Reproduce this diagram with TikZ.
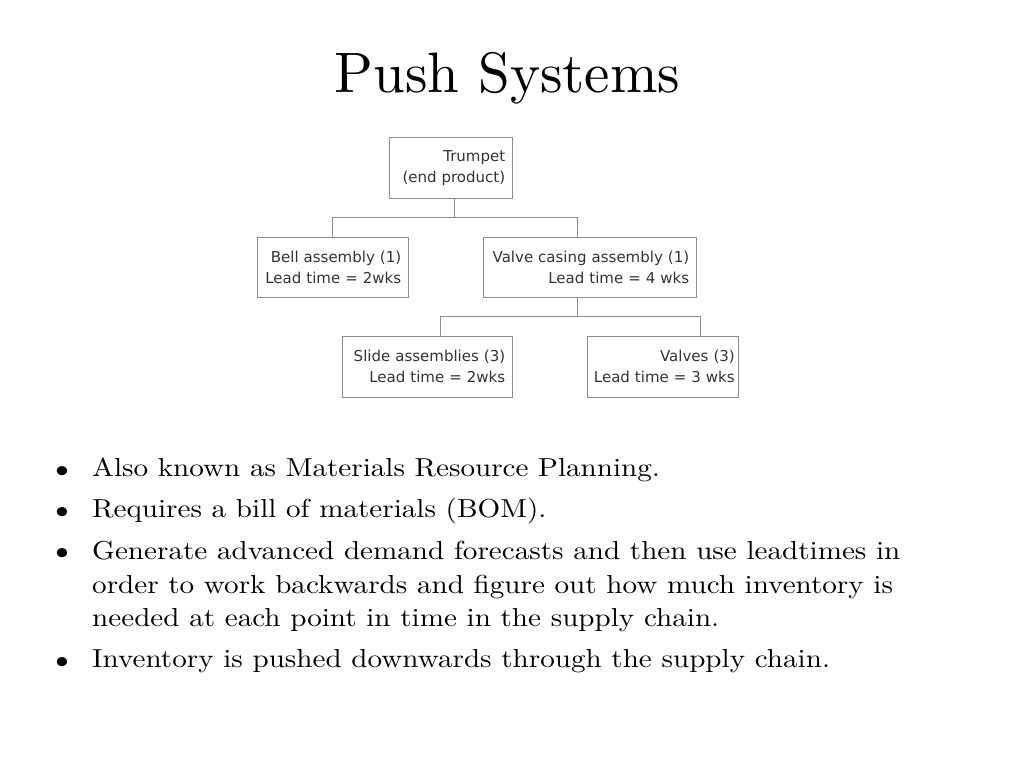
\documentclass[tikz,border=0pt]{standalone}
\usepackage{fontspec}
\newfontfamily\boxfont{DejaVu Sans}
\newfontfamily\bodyfont{lmroman10-regular}[Extension=.otf, FakeStretch=1.12]
\newfontfamily\titlefont{lmroman10-regular}[Extension=.otf]
\usetikzlibrary{calc}
\definecolor{boxline}{HTML}{8C8C8C}
\definecolor{boxtext}{HTML}{333333}
\tikzset{
  partbox/.style={draw=boxline, line width=0.9pt, fill=white, anchor=north west,
    inner xsep=7pt, inner ysep=0pt, align=right, text=boxtext,
    font=\boxfont\fontsize{15}{21.5}\selectfont},
  conn/.style={draw=boxline, line width=0.9pt},
  bline/.style={anchor=base west, inner sep=0pt, font=\bodyfont\fontsize{26}{30}\selectfont},
  bmark/.style={anchor=base, inner sep=0pt, font=\bodyfont\fontsize{32}{30}\selectfont},
  titletext/.style={anchor=base, inner sep=0pt, font=\titlefont\fontsize{57}{66}\selectfont}
}
\begin{document}
\begin{tikzpicture}[x=1pt,y=-1pt]
\useasboundingbox[fill=white] (0,0) rectangle (1024,768);
% title
\node[titletext] (title) at (507.5,92) {Push Systems};
% boxes
\node[partbox, text width=108.7pt, minimum height=61pt] (trumpet) at (389,137) {Trumpet\\(end product)};
\node[partbox, text width=136.7pt, minimum height=60.6pt] (bell) at (257,236.7) {Bell assembly (1)\\Lead time = 2wks};
\node[partbox, text width=198.7pt, minimum height=60.6pt] (valve) at (483,236.7) {Valve casing assembly (1)\\Lead time = 4 wks};
\node[partbox, text width=156pt, minimum height=61pt] (slide) at (341.7,335.7) {Slide assemblies (3)\\Lead time = 2wks};
\node[partbox, inner xsep=4pt, text width=143.6pt, minimum height=61pt] (valves) at (586.7,335.7) {Valves (3)\\Lead time = 3 wks};
% junctions
\coordinate (tj) at (454.7,217.7);
\coordinate (vjl) at (577.7,217.7);
\coordinate (vj) at (577.7,316.3);
\coordinate (sj) at (440.7,316.3);
\coordinate (wj) at (700.7,316.3);
\draw[conn] (tj |- trumpet.south) -- (tj);
\draw[conn] (bell.north) |- (tj) -- (vjl) -- (vjl |- valve.north);
\draw[conn] (vj |- valve.south) -- (vj);
\draw[conn] (sj |- slide.north) -- (sj) -- (wj) -- (wj |- valves.north);
% bullets
\node[bmark] (b1) at (62,478) {\textbullet};
\node[bline] (l1) at (92,476.7) {Also known as Materials Resource Planning.};
\node[bmark] (b2) at (62,519) {\textbullet};
\node[bline] (l2) at (92,517.7) {Requires a bill of materials (BOM).};
\node[bmark] (b3) at (62,560.6) {\textbullet};
\node[bline] (l3) at (92,559.3) {Generate advanced demand forecasts and then use leadtimes in};
\node[bline] (l4) at (92,593.3) {order to work backwards and figure out how much inventory is};
\node[bline] (l5) at (92,626.7) {needed at each point in time in the supply chain.};
\node[bmark] (b4) at (62,669) {\textbullet};
\node[bline] (l6) at (92,667.7) {Inventory is pushed downwards through the supply chain.};
\end{tikzpicture}
\end{document}
